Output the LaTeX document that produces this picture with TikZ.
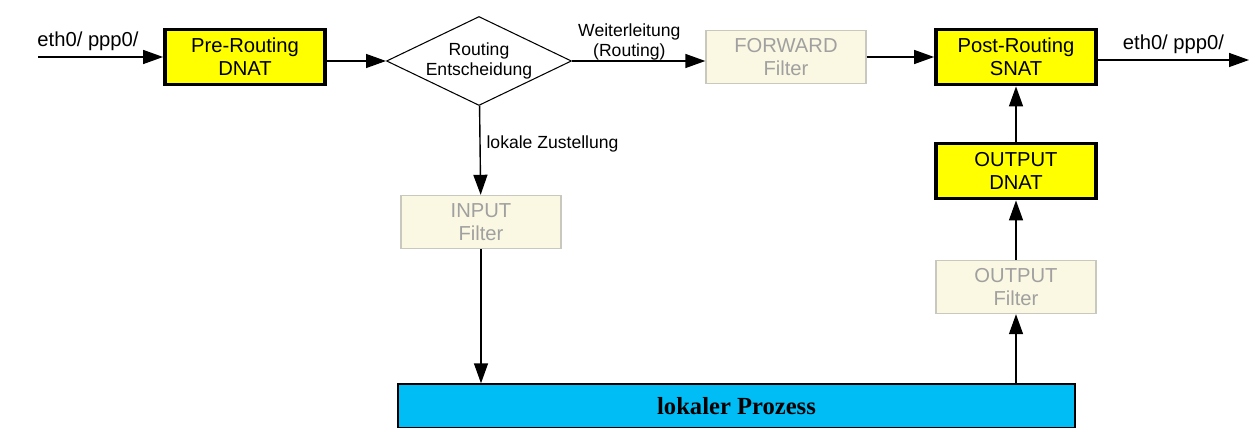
\documentclass[tikz,border=0pt]{standalone}
\usepackage{fontspec}
\setmainfont{Liberation Sans}
\newfontfamily\prozessfont{Liberation Serif}
\usetikzlibrary{shapes.geometric,arrows.meta}

\definecolor{natgelb}{RGB}{255,255,0}
\definecolor{filtercreme}{RGB}{250,248,226}
\definecolor{filterrand}{RGB}{200,200,190}
\definecolor{filtertext}{RGB}{160,160,160}
\definecolor{prozessblau}{RGB}{0,190,245}

\begin{document}
\begin{tikzpicture}[x=0.02cm,y=-0.02cm,
  natbox/.style={rectangle,draw=black,line width=2.2pt,fill=natgelb,minimum width=3.2cm,minimum height=1.1cm,align=center,font=\fontsize{11.5}{13}\selectfont},
  filterbox/.style={rectangle,draw=filterrand,line width=0.8pt,fill=filtercreme,text=filtertext,minimum width=3.2cm,minimum height=1.06cm,align=center,font=\fontsize{11.5}{13}\selectfont},
  entscheid/.style={diamond,draw,line width=0.6pt,aspect=2.08,minimum width=3.7cm,minimum height=1.78cm,inner sep=0pt,align=center,font=\fontsize{10}{11}\selectfont},
  pfeil/.style={-{Triangle[length=4mm,width=2.8mm]},line width=0.8pt},
  beschr/.style={font=\fontsize{10}{11}\selectfont,align=center}]
\useasboundingbox (0,0) rectangle (1250,428);
  %\draw[help lines,step=50] (0,0) grid (1250,428);
\node[natbox] (prerouting) at (245,57) {Pre-Routing\\DNAT};
\node[entscheid] (routing) at (479,61) {Routing\\Entscheidung};
\node[filterbox] (forward) at (786,57) {FORWARD\\Filter};
\node[natbox] (postrouting) at (1016,57) {Post-Routing\\SNAT};
\node[filterbox] (input) at (481,222) {INPUT\\Filter};
\node[natbox] (outputnat) at (1016,171) {OUTPUT\\DNAT};
\node[filterbox] (outputfilter) at (1016,287) {OUTPUT\\Filter};
\node[rectangle,draw,line width=0.8pt,fill=prozessblau,minimum width=13.54cm,minimum height=0.88cm,font=\prozessfont\bfseries\fontsize{14}{16}\selectfont] (prozess) at (736.5,406) {lokaler Prozess};
\coordinate (ein) at (38,57);
\coordinate (aus) at (1249,60);
  % Weg durch die Ketten
\draw[pfeil] (ein) -- node[above,pos=0.4,beschr,font=\fontsize{11.5}{13}\selectfont] {eth0/ ppp0/} (prerouting);
\draw[pfeil] (prerouting.east |- routing.west) -- (routing);
\draw[pfeil] (routing) -- node[above,pos=0.43,beschr,yshift=-3pt] {Weiterleitung\\(Routing)} (routing.east -| forward.west);
\draw[pfeil] (forward) -- (postrouting);
\draw[pfeil] (postrouting.east |- aus) -- node[above,beschr,font=\fontsize{11.5}{13}\selectfont] {eth0/ ppp0/} (aus);
\draw[pfeil] (routing) -- node[right,pos=0.43,beschr] {lokale Zustellung} (input);
\draw[pfeil] (input) -- (input.south |- prozess.north);
\draw[pfeil] (outputfilter.south |- prozess.north) -- (outputfilter);
\draw[pfeil] (outputfilter) -- (outputnat);
\draw[pfeil] (outputnat) -- (postrouting);
\end{tikzpicture}
\end{document}
